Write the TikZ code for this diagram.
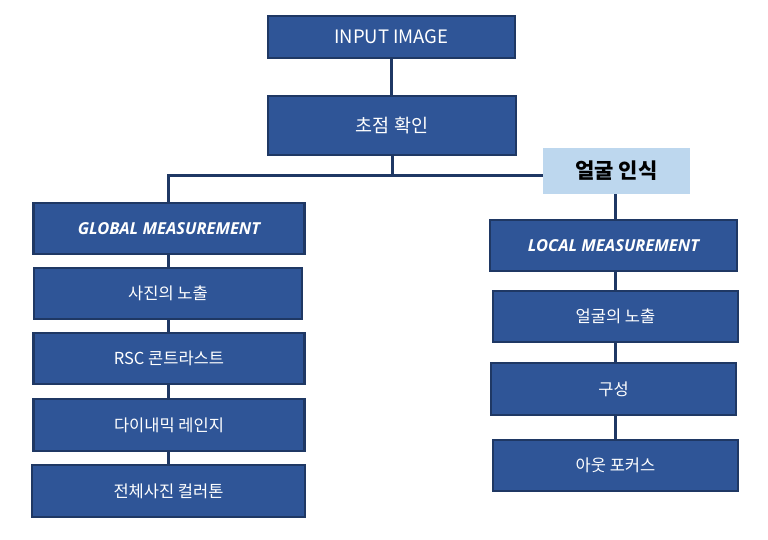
\documentclass[tikz,border=0pt]{standalone}
\usepackage{fontspec}
\setmainfont{Noto Sans CJK KR}
\newfontfamily\latinbi{Open Sans}[BoldItalicFont={Open Sans Bold Italic}]
\definecolor{boxblue}{HTML}{2F5597}
\definecolor{boxedge}{HTML}{1F3864}
\definecolor{lightblue}{HTML}{BDD7EE}
\tikzset{
  bluebox/.style={draw=boxedge, line width=2.5pt, fill=boxblue, text=white, inner sep=0pt, font=\fontsize{16.5}{19}\selectfont},
  bigtext/.style={font=\fontsize{18.5}{21}\selectfont},
  facebox/.style={fill=lightblue, text=black, inner sep=0pt, font=\fontsize{21}{24}\selectfont\bfseries},
  conn/.style={draw=boxedge, line width=3pt},
  measure/.style={font=\fontsize{16.5}{19}\selectfont\latinbi\bfseries\itshape}
}
\begin{document}
\begin{tikzpicture}[x=1pt,y=-1pt]
\useasboundingbox (0,0) rectangle (768,539);
\fill[white] (0,0) rectangle (768,539);
% top
\node[bluebox, bigtext, minimum width=247pt, minimum height=42pt] (input) at (391.5,37) {INPUT IMAGE};
\node[bluebox, bigtext, minimum width=248pt, minimum height=59pt] (focus) at (392,125.5) {초점 확인};
\node[facebox, minimum width=147pt, minimum height=46pt] (face) at (616.5,171) {얼굴 인식};
\coordinate (j) at (392,175);
% left column
\node[bluebox, measure, minimum width=271pt, minimum height=51pt] (gm) at (169,228.5) {GLOBAL MEASUREMENT};
\node[bluebox, minimum width=268pt, minimum height=51pt] (g1) at (168,293.5) {사진의 노출};
\node[bluebox, minimum width=271pt, minimum height=51pt] (g2) at (169,358.5) {RSC 콘트라스트};
\node[bluebox, minimum width=271pt, minimum height=52pt] (g3) at (169,425) {다이내믹 레인지};
\node[bluebox, minimum width=273pt, minimum height=52pt] (g4) at (168.5,491) {전체사진 컬러톤};
% right column
\node[bluebox, measure, minimum width=247pt, minimum height=51pt] (lm) at (613.5,245.5) {LOCAL MEASUREMENT};
\node[bluebox, minimum width=245pt, minimum height=51pt] (l1) at (615.5,316.5) {얼굴의 노출};
\node[bluebox, minimum width=245pt, minimum height=52pt] (l2) at (613.5,389) {구성};
\node[bluebox, minimum width=245pt, minimum height=51pt] (l3) at (615.5,465.5) {아웃 포커스};
% connectors
\coordinate (xl) at (168,0);
\coordinate (xr) at (615,0);
\draw[conn] (input.south) -- (input.south |- focus.north);
\draw[conn] (focus.south) -- (j);
\draw[conn] (face.west |- j) -- (j -| xl) -- (gm.north -| xl);
\draw[conn] (gm.south -| xl) -- (g1.north -| xl);
\draw[conn] (g1.south -| xl) -- (g2.north -| xl);
\draw[conn] (g2.south -| xl) -- (g3.north -| xl);
\draw[conn] (g3.south -| xl) -- (g4.north -| xl);
\draw[conn] (face.south -| xr) -- (lm.north -| xr);
\draw[conn] (lm.south -| xr) -- (l1.north -| xr);
\draw[conn] (l1.south -| xr) -- (l2.north -| xr);
\draw[conn] (l2.south -| xr) -- (l3.north -| xr);
\end{tikzpicture}
\end{document}
